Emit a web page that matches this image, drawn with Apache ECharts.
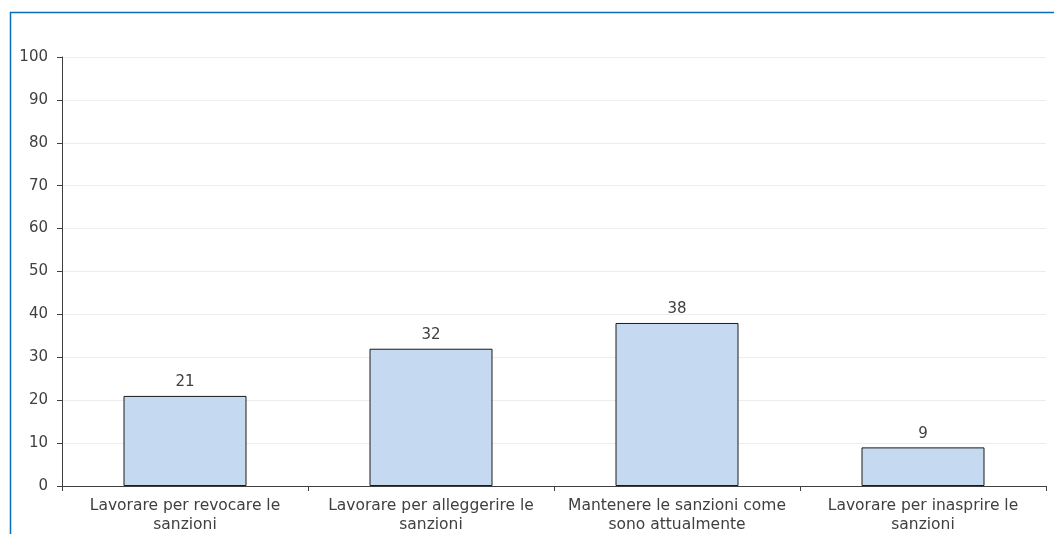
<!DOCTYPE html>
<html><head><meta charset="utf-8">
<script src="https://cdn.jsdelivr.net/npm/echarts@6/dist/echarts.min.js"></script>
<style>html,body{margin:0;padding:0;background:#fff}#c{width:1054px;height:534px}</style>
</head><body><div id="c"></div>
<script>
const categories = ['Lavorare per revocare le\nsanzioni','Lavorare per alleggerire le\nsanzioni','Mantenere le sanzioni come\nsono attualmente','Lavorare per inasprire le\nsanzioni'];
const values = [21, 32, 38, 9];
const yTicks = [0,10,20,30,40,50,60,70,80,90,100];
const chart = echarts.init(document.getElementById('c'), null, {renderer:'canvas'});
const font = '"DejaVu Sans", sans-serif';
chart.setOption({
  animation:false,
  graphic:[{type:'rect',shape:{x:10.5,y:12.5,width:1100,height:600},style:{fill:'none',stroke:'#0a6ebd',lineWidth:1.5},silent:true}],
  grid:{left:62,right:8,top:57,bottom:48},
  xAxis:{type:'category',data:categories,
    axisLine:{lineStyle:{color:'#404040',width:1}},
    axisTick:{show:true,length:5,lineStyle:{color:'#404040'}},
    axisLabel:{color:'#404040',fontSize:15.5,fontFamily:font,margin:10,lineHeight:19,interval:0}},
  yAxis:{type:'value',min:yTicks[0],max:yTicks[yTicks.length-1],interval:10,
    axisLine:{show:true,lineStyle:{color:'#404040'}},
    axisTick:{show:true,length:5,lineStyle:{color:'#404040'}},
    axisLabel:{color:'#404040',fontSize:15,fontFamily:font,margin:14},
    splitLine:{lineStyle:{color:'#ededed'}}},
  series:[{type:'bar',data:values,barWidth:'50%',
    itemStyle:{color:'#c5daf0',borderColor:'#1a1a1a',borderWidth:1},
    label:{show:true,position:'top',color:'#404040',fontSize:15,fontFamily:font,distance:6}}]
});
</script></body></html>
